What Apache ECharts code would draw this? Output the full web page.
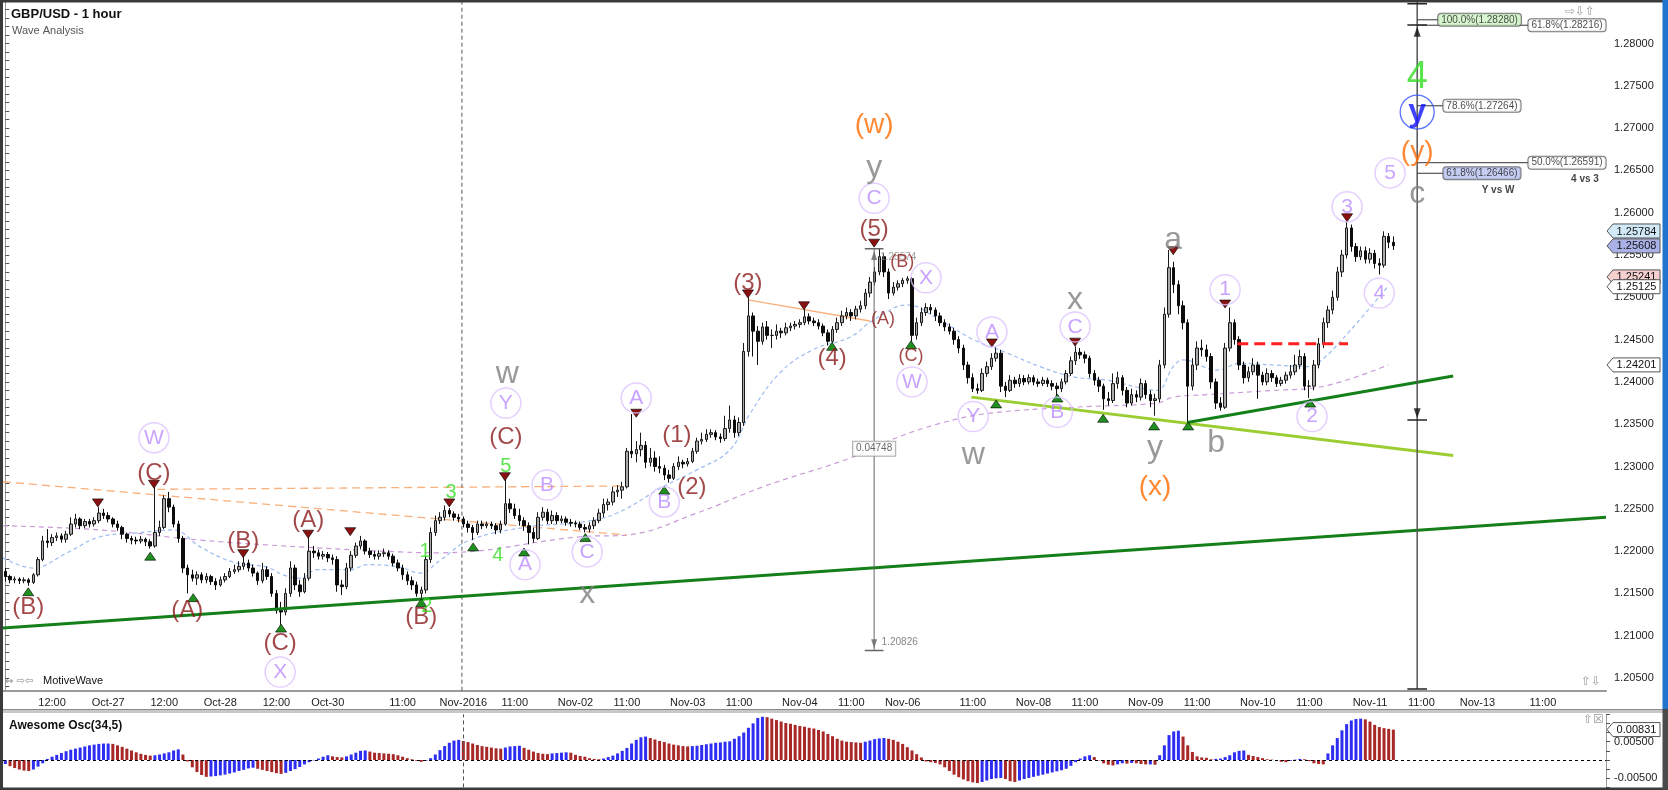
<!DOCTYPE html>
<html><head><meta charset="utf-8">
<script src="https://cdn.jsdelivr.net/npm/echarts@6/dist/echarts.min.js"></script>
<style>html,body{margin:0;padding:0;background:#fff}#c{width:1668px;height:790px}</style>
</head><body><div id="c"></div><script>
// ---------- DATA ----------
const firstOpen = 1.2176;
const closes = [
1.2170,1.2166,1.2167,1.2165,1.2166,1.2163,1.2172,1.2190,1.2212,1.2210,
1.2216,1.2218,1.2214,1.2220,1.2232,1.2238,1.2230,1.2235,1.2232,1.2236,
1.2245,1.2242,1.2238,1.2232,1.2228,1.2220,1.2215,1.2213,1.2212,1.2214,
1.2211,1.2206,1.2222,1.2228,1.2262,1.2252,1.2232,1.2215,1.2180,1.2172,
1.2168,1.2172,1.2166,1.2170,1.2164,1.2160,1.2166,1.2170,1.2176,1.2178,
1.2182,1.2186,1.2180,1.2174,1.2165,1.2178,1.2170,1.2150,1.2130,1.2128,
1.2150,1.2180,1.2160,1.2152,1.2168,1.2200,1.2198,1.2194,1.2196,1.2192,
1.2190,1.2160,1.2158,1.2180,1.2195,1.2206,1.2212,1.2200,1.2196,1.2194,
1.2197,1.2198,1.2194,1.2186,1.2180,1.2172,1.2165,1.2160,1.2150,1.2154,
1.2190,1.2222,1.2236,1.2240,1.2248,1.2244,1.2240,1.2238,1.2232,1.2228,
1.2222,1.2232,1.2230,1.2232,1.2230,1.2225,1.2232,1.2256,1.2250,1.2242,
1.2236,1.2230,1.2222,1.2215,1.2240,1.2246,1.2236,1.2242,1.2236,1.2238,
1.2234,1.2233,1.2232,1.2228,1.2226,1.2230,1.2236,1.2245,1.2255,1.2258,
1.2270,1.2272,1.2276,1.2318,1.2315,1.2320,1.2325,1.2305,1.2310,1.2300,
1.2298,1.2290,1.2286,1.2300,1.2305,1.2303,1.2306,1.2318,1.2330,1.2332,
1.2338,1.2340,1.2335,1.2333,1.2345,1.2355,1.2340,1.2352,1.2436,1.2478,
1.2460,1.2448,1.2465,1.2455,1.2455,1.2460,1.2458,1.2464,1.2466,1.2468,
1.2470,1.2477,1.2472,1.2470,1.2466,1.2458,1.2448,1.2462,1.2470,1.2478,
1.2482,1.2478,1.2486,1.2490,1.2505,1.2518,1.2530,1.2548,1.2530,1.2505,
1.2512,1.2516,1.2520,1.2522,1.2455,1.2470,1.2482,1.2488,1.2485,1.2478,
1.2470,1.2465,1.2460,1.2450,1.2440,1.2420,1.2405,1.2392,1.2390,1.2410,
1.2418,1.2428,1.2434,1.2395,1.2390,1.2402,1.2398,1.2404,1.2400,1.2405,
1.2400,1.2398,1.2402,1.2398,1.2395,1.2392,1.2400,1.2410,1.2425,1.2435,
1.2432,1.2428,1.2410,1.2402,1.2395,1.2380,1.2378,1.2398,1.2405,1.2390,
1.2375,1.2385,1.2382,1.2398,1.2385,1.2378,1.2380,1.2420,1.2480,1.2535,
1.2515,1.2490,1.2470,1.2395,1.2420,1.2440,1.2438,1.2430,1.2400,1.2375,
1.2370,1.2440,1.2470,1.2450,1.2420,1.2405,1.2412,1.2420,1.2408,1.2400,
1.2410,1.2405,1.2398,1.2402,1.2408,1.2412,1.2420,1.2430,1.2395,1.2395,
1.2420,1.2445,1.2470,1.2485,1.2500,1.2530,1.2550,1.2582,1.2560,1.2548,
1.2555,1.2545,1.2552,1.2540,1.2538,1.2572,1.2565,1.2561];
const highs = [
1.2180,1.2172,1.2170,1.2169,1.2169,1.2168,1.2174,1.2193,1.2218,1.2226,
1.2220,1.2222,1.2221,1.2224,1.2240,1.2244,1.2240,1.2238,1.2238,1.2240,
1.2252,1.2250,1.2246,1.2240,1.2236,1.2230,1.2222,1.2218,1.2217,1.2218,
1.2216,1.2214,1.2278,1.2236,1.2266,1.2270,1.2255,1.2236,1.2218,1.2184,
1.2178,1.2176,1.2175,1.2174,1.2172,1.2168,1.2170,1.2174,1.2180,1.2184,
1.2188,1.2195,1.2190,1.2184,1.2176,1.2186,1.2182,1.2174,1.2154,1.2140,
1.2156,1.2188,1.2184,1.2166,1.2174,1.2220,1.2206,1.2202,1.2200,1.2199,
1.2196,1.2194,1.2166,1.2186,1.2200,1.2210,1.2218,1.2214,1.2204,1.2200,
1.2201,1.2203,1.2201,1.2197,1.2190,1.2184,1.2176,1.2170,1.2164,1.2158,
1.2194,1.2228,1.2242,1.2246,1.2254,1.2251,1.2247,1.2244,1.2241,1.2236,
1.2231,1.2236,1.2236,1.2235,1.2235,1.2233,1.2236,1.2285,1.2262,1.2256,
1.2250,1.2240,1.2234,1.2228,1.2246,1.2252,1.2250,1.2248,1.2246,1.2242,
1.2241,1.2238,1.2236,1.2235,1.2232,1.2234,1.2240,1.2250,1.2262,1.2262,
1.2276,1.2278,1.2282,1.2322,1.2362,1.2330,1.2340,1.2330,1.2322,1.2318,
1.2312,1.2302,1.2296,1.2304,1.2312,1.2308,1.2310,1.2322,1.2334,1.2340,
1.2344,1.2344,1.2343,1.2339,1.2360,1.2372,1.2360,1.2358,1.2446,1.2500,
1.2482,1.2466,1.2470,1.2472,1.2462,1.2468,1.2464,1.2470,1.2470,1.2472,
1.2474,1.2486,1.2481,1.2476,1.2474,1.2469,1.2462,1.2466,1.2476,1.2484,
1.2488,1.2486,1.2490,1.2496,1.2510,1.2524,1.2536,1.2557,1.2552,1.2534,
1.2518,1.2520,1.2523,1.2525,1.2524,1.2476,1.2488,1.2493,1.2492,1.2488,
1.2482,1.2474,1.2469,1.2464,1.2454,1.2444,1.2424,1.2410,1.2398,1.2416,
1.2424,1.2434,1.2441,1.2438,1.2400,1.2408,1.2406,1.2409,1.2408,1.2409,
1.2408,1.2404,1.2406,1.2405,1.2402,1.2399,1.2404,1.2414,1.2430,1.2442,
1.2440,1.2436,1.2431,1.2414,1.2406,1.2398,1.2388,1.2410,1.2412,1.2408,
1.2394,1.2392,1.2390,1.2404,1.2402,1.2390,1.2386,1.2426,1.2488,1.2556,
1.2542,1.2520,1.2496,1.2474,1.2428,1.2448,1.2450,1.2444,1.2434,1.2404,
1.2382,1.2446,1.2488,1.2474,1.2454,1.2424,1.2418,1.2428,1.2424,1.2412,
1.2416,1.2414,1.2408,1.2406,1.2412,1.2420,1.2432,1.2438,1.2434,1.2402,
1.2426,1.2452,1.2476,1.2490,1.2508,1.2536,1.2556,1.2590,1.2586,1.2564,
1.2560,1.2560,1.2558,1.2556,1.2546,1.2578,1.2576,1.2572];
const lows = [
1.2164,1.2162,1.2162,1.2161,1.2162,1.2159,1.2161,1.2170,1.2188,1.2204,
1.2206,1.2212,1.2210,1.2210,1.2218,1.2228,1.2226,1.2227,1.2228,1.2229,
1.2233,1.2238,1.2234,1.2228,1.2224,1.2214,1.2210,1.2208,1.2208,1.2209,
1.2206,1.2203,1.2204,1.2218,1.2226,1.2246,1.2228,1.2210,1.2174,1.2150,
1.2164,1.2160,1.2162,1.2162,1.2160,1.2154,1.2158,1.2163,1.2168,1.2173,
1.2175,1.2178,1.2176,1.2170,1.2160,1.2162,1.2166,1.2146,1.2126,1.2113,
1.2124,1.2146,1.2154,1.2146,1.2150,1.2165,1.2192,1.2190,1.2190,1.2187,
1.2184,1.2152,1.2148,1.2155,1.2176,1.2192,1.2202,1.2196,1.2192,1.2190,
1.2190,1.2193,1.2190,1.2182,1.2176,1.2166,1.2160,1.2154,1.2146,1.2144,
1.2150,1.2186,1.2218,1.2232,1.2236,1.2240,1.2236,1.2234,1.2228,1.2222,
1.2213,1.2219,1.2226,1.2227,1.2226,1.2220,1.2221,1.2230,1.2245,1.2238,
1.2230,1.2224,1.2208,1.2210,1.2213,1.2236,1.2232,1.2232,1.2232,1.2233,
1.2230,1.2229,1.2228,1.2225,1.2222,1.2222,1.2226,1.2233,1.2240,1.2248,
1.2254,1.2264,1.2262,1.2274,1.2310,1.2305,1.2312,1.2298,1.2300,1.2294,
1.2292,1.2284,1.2281,1.2284,1.2296,1.2298,1.2300,1.2304,1.2315,1.2326,
1.2329,1.2334,1.2331,1.2328,1.2330,1.2340,1.2334,1.2336,1.2348,1.2430,
1.2430,1.2420,1.2444,1.2450,1.2440,1.2450,1.2452,1.2455,1.2460,1.2462,
1.2464,1.2467,1.2468,1.2466,1.2462,1.2454,1.2443,1.2446,1.2458,1.2466,
1.2474,1.2472,1.2474,1.2482,1.2486,1.2500,1.2514,1.2526,1.2524,1.2498,
1.2502,1.2508,1.2512,1.2516,1.2448,1.2450,1.2466,1.2478,1.2480,1.2472,
1.2466,1.2460,1.2456,1.2444,1.2434,1.2414,1.2398,1.2388,1.2386,1.2388,
1.2406,1.2414,1.2424,1.2388,1.2382,1.2388,1.2393,1.2394,1.2396,1.2397,
1.2396,1.2394,1.2395,1.2394,1.2390,1.2383,1.2388,1.2397,1.2407,1.2420,
1.2427,1.2422,1.2405,1.2396,1.2388,1.2367,1.2372,1.2375,1.2392,1.2384,
1.2370,1.2372,1.2376,1.2378,1.2380,1.2370,1.2360,1.2376,1.2416,1.2476,
1.2505,1.2480,1.2462,1.2350,1.2390,1.2414,1.2430,1.2424,1.2392,1.2368,
1.2366,1.2368,1.2436,1.2444,1.2414,1.2398,1.2400,1.2408,1.2380,1.2396,
1.2396,1.2400,1.2394,1.2395,1.2398,1.2404,1.2408,1.2415,1.2390,1.2381,
1.2390,1.2416,1.2440,1.2464,1.2480,1.2496,1.2524,1.2546,1.2554,1.2542,
1.2544,1.2540,1.2540,1.2534,1.2527,1.2535,1.2558,1.2556];
const aoValues = [
-0.0011,-0.0017,-0.0022,-0.0026,-0.0029,-0.0030,-0.0026,-0.0018,-0.0009,0.0003,
0.0009,0.0014,0.0019,0.0024,0.0028,0.0031,0.0034,0.0037,0.0040,0.0042,
0.0044,0.0045,0.0045,0.0044,0.0040,0.0036,0.0031,0.0026,0.0021,0.0017,
0.0014,0.0012,0.0013,0.0015,0.0018,0.0021,0.0026,0.0029,0.0015,-0.0004,
-0.0020,-0.0033,-0.0041,-0.0046,-0.0045,-0.0044,-0.0042,-0.0040,-0.0037,-0.0034,
-0.0030,-0.0027,-0.0023,-0.0021,-0.0024,-0.0027,-0.0030,-0.0033,-0.0036,-0.0038,
-0.0035,-0.0030,-0.0025,-0.0019,-0.0012,-0.0006,-0.0001,0.0004,0.0009,0.0013,
0.0010,0.0008,0.0007,0.0010,0.0015,0.0020,0.0025,0.0026,0.0023,0.0020,
0.0019,0.0018,0.0017,0.0016,0.0013,0.0009,0.0005,0.0002,-0.0002,-0.0005,
-0.0002,0.0005,0.0015,0.0027,0.0038,0.0047,0.0053,0.0055,0.0052,0.0049,
0.0045,0.0041,0.0038,0.0036,0.0034,0.0032,0.0031,0.0034,0.0037,0.0038,
0.0039,0.0033,0.0028,0.0023,0.0019,0.0017,0.0016,0.0018,0.0019,0.0020,
0.0021,0.0020,0.0014,0.0011,0.0009,0.0005,0.0003,0.0002,0.0004,0.0008,
0.0012,0.0018,0.0025,0.0033,0.0045,0.0055,0.0062,0.0064,0.0060,0.0056,
0.0052,0.0049,0.0045,0.0042,0.0040,0.0038,0.0037,0.0038,0.0039,0.0041,
0.0043,0.0045,0.0047,0.0048,0.0050,0.0051,0.0058,0.0065,0.0075,0.0088,
0.0100,0.0115,0.0118,0.0117,0.0113,0.0109,0.0105,0.0101,0.0099,0.0096,
0.0093,0.0091,0.0088,0.0086,0.0082,0.0078,0.0071,0.0065,0.0058,0.0053,
0.0050,0.0049,0.0048,0.0047,0.0050,0.0053,0.0057,0.0059,0.0060,0.0058,
0.0055,0.0050,0.0044,0.0035,0.0026,0.0016,0.0007,-0.0004,-0.0006,-0.0008,
-0.0012,-0.0020,-0.0030,-0.0040,-0.0047,-0.0053,-0.0058,-0.0061,-0.0063,-0.0060,
-0.0056,-0.0052,-0.0050,-0.0049,-0.0052,-0.0058,-0.0060,-0.0056,-0.0052,-0.0049,
-0.0046,-0.0043,-0.0040,-0.0037,-0.0034,-0.0031,-0.0028,-0.0024,-0.0016,-0.0006,
0.0004,0.0010,0.0013,0.0008,-0.0001,-0.0009,-0.0013,-0.0015,-0.0012,-0.0009,
-0.0010,-0.0008,-0.0009,-0.0011,-0.0012,-0.0012,-0.0013,0.0013,0.0040,0.0068,
0.0078,0.0080,0.0064,0.0040,0.0022,0.0010,0.0007,0.0006,0.0002,0.0003,
0.0004,0.0008,0.0013,0.0021,0.0025,0.0026,0.0014,0.0011,0.0008,0.0005,
0.0002,0.0001,-0.0002,-0.0005,-0.0006,-0.0002,0.0001,0.0003,0.0002,-0.0003,
-0.0009,-0.0011,-0.0012,0.0018,0.0040,0.0060,0.0081,0.0098,0.0108,0.0112,
0.0113,0.0111,0.0105,0.0096,0.0090,0.0087,0.0085,0.0083];

const slotCount = 343;
const xLabelIdx = [10,22,34,46,58,69,85,98,109,122,133,146,157,170,181,192,207,220,231,244,255,268,279,292,303,315,329];
const xLabelText = ['12:00','Oct-27','12:00','Oct-28','12:00','Oct-30','11:00','Nov-2016','11:00','Nov-02','11:00','Nov-03','11:00','Nov-04','11:00','Nov-06','11:00','Nov-08','11:00','Nov-09','11:00','Nov-10','11:00','Nov-11','11:00','Nov-13','11:00'];
const priceTickLabels = [1.205,1.21,1.215,1.22,1.225,1.23,1.235,1.24,1.245,1.25,1.255,1.26,1.265,1.27,1.275,1.28];
const aoTickLabels = [-0.005, 0.005];

// moving averages [bar, price]
const maFast = [[-0.5,1.2192],[5.9,1.2180],[13.2,1.2198],[20.3,1.2217],[27.3,1.2221],[35.9,1.2225],[41.7,1.2205],[48.7,1.2187],[56.0,1.2181],[59.4,1.2172],[63.1,1.2168],[66.7,1.2178],[73.8,1.2178],[77.4,1.2184],[84.5,1.2181],[88.7,1.2174],[93.0,1.2189],[99.4,1.2213],[112.3,1.2229],[123.0,1.2234],[130.9,1.2245],[140.7,1.2276],[148.0,1.2296],[155.1,1.2320],[159.4,1.2363],[165.8,1.2411],[172.8,1.2438],[180.8,1.2453],[185.7,1.2473],[193.0,1.2491],[200.0,1.2473],[207.1,1.2450],[214.4,1.2434],[221.4,1.2418],[228.5,1.2406],[235.8,1.2402],[242.8,1.2393],[246.5,1.2390],[249.9,1.2418],[252.0,1.2426],[259.3,1.2414],[264.2,1.2422],[271.3,1.2420],[278.6,1.2418],[281.3,1.2424],[287.8,1.2461],[295.7,1.2512]];
const maSlow = [[-0.5,1.2230],[20.3,1.2225],[41.7,1.2213],[63.1,1.2205],[84.5,1.2199],[93.0,1.2198],[123.0,1.2217],[133.0,1.2219],[148.0,1.2245],[162.1,1.2276],[180.8,1.2310],[189.3,1.2331],[200.0,1.2351],[210.7,1.2363],[228.5,1.2370],[246.5,1.2375],[249.9,1.2382],[257.2,1.2385],[271.3,1.2390],[281.3,1.2394],[295.9,1.2420]];

// trend lines [bar, price]
const trendMain = [[-0.5,1.2109],[342.5,1.2240]];
const trendLime = [[206.7,1.2382],[309.8,1.2313]];
const trendShort = [[252.9,1.2352],[309.8,1.2407]];
const redLevel = [[263.6,1.2445],[287.3,1.2445]];
const orange1 = [[-0.5,1.2282],[133.0,1.2219]];
const orange2 = [[32.5,1.2273],[133.0,1.2277]];
const orange3 = [[158.9,1.2497],[185.0,1.2472]];

// wave labels [bar, price, text]
const redLabels = [[4.9,1.2133,'(B)'],[31.8,1.2292,'(C)'],[38.9,1.2130,'(A)'],[50.9,1.2211,'(B)'],[64.8,1.2236,'(A)'],[58.8,1.2091,'(C)'],[89.0,1.2122,'(B)'],[107.1,1.2334,'(C)'],[143.7,1.2337,'(1)'],[146.9,1.2275,'(2)'],[158.9,1.2517,'(3)'],[176.9,1.2428,'(4)'],[185.9,1.2580,'(5)']];
const redLabelsSmall = [[191.9,1.2542,'(B)'],[187.8,1.2474,'(A)'],[193.8,1.2431,'(C)']];
const greenDigits = [[89.8,1.2199,'1'],[90.2,1.2134,'2'],[95.4,1.2269,'3'],[105.4,1.2195,'4'],[107.1,1.2300,'5']];
const greenBig = [[302.1,1.2760,'4']];
const purpleCircled = [[31.8,1.2334,'W'],[58.8,1.2057,'X'],[107.1,1.2375,'Y'],[115.9,1.2278,'B'],[111.2,1.2184,'A'],[124.5,1.2199,'C'],[135.0,1.2381,'A'],[141.0,1.2258,'B'],[185.9,1.2617,'C'],[197.0,1.2523,'X'],[194.0,1.2400,'W'],[211.1,1.2459,'A'],[207.1,1.2359,'Y'],[228.9,1.2465,'C'],[225.1,1.2364,'B'],[261.0,1.2509,'1'],[279.6,1.2359,'2'],[287.1,1.2607,'3'],[294.0,1.2505,'4'],[296.3,1.2647,'5']];
const grayLetters = [[107.4,1.2409,'w'],[124.5,1.2149,'x'],[185.9,1.2653,'y'],[207.1,1.2313,'w'],[228.9,1.2497,'x'],[249.9,1.2568,'a'],[246.0,1.2322,'y'],[259.1,1.2328,'b'],[302.1,1.2622,'c']];
const orangeLabels = [[185.9,1.2703,'(w)'],[246.0,1.2276,'(x)'],[302.1,1.2671,'(y)']];
const blueCircled = [[302.1,1.2719,'y']];
const triUp = [[4.9,1.2152],[31.0,1.2194],[40.2,1.2145],[59.0,1.2109],[89.0,1.2139],[100.1,1.2205],[111.0,1.2199],[124.1,1.2216],[141.0,1.2272],[176.9,1.2442],[193.8,1.2444],[212.0,1.2374],[225.1,1.2381],[234.9,1.2357],[245.8,1.2348],[253.1,1.2348],[279.2,1.2375]];
const triDown = [[19.8,1.2257],[31.8,1.2279],[50.9,1.2197],[64.8,1.2220],[73.8,1.2223],[95.0,1.2257],[106.9,1.2288],[135.0,1.2363],[158.9,1.2504],[170.9,1.2490],[185.9,1.2564],[211.1,1.2446],[228.9,1.2447],[249.9,1.2555],[261.0,1.2492],[287.1,1.2594]];

// measurements
const measureBar = 185.9, measureTop = 1.25574, measureBottom = 1.20826, measureDiff = '0.04748';
const fibBar = 302.1, fibTop = 1.285, fibBottom = 1.2037, fibHigh = 1.2822, fibLow = 1.2355;
const fibLevels = [1.28280, 1.28216, 1.27264, 1.26591, 1.26466];
const fibTexts = ['100.0%(1.28280)','61.8%(1.28216)','78.6%(1.27264)','50.0%(1.26591)','61.8%(1.26466)'];
const fibBoxAt = [306.6, 325.9, 307.7, 325.9, 307.7];
const fibFills = ['#cdf3c2','#ffffff','#ffffff','#ffffff','#b7c0ef'];
const tagValues = [1.25784, 1.25608, 1.25241, 1.25125, 1.24201];
const tagFills = ['#d2e9f7','#aab1e7','#f6cfcf','#ffffff','#ffffff'];
const aoLast = 0.00831;
const novBoundary = 97.7;

// ---------- CHART ----------
const FONT = 'Liberation Sans';
const cats = Array.from({length: slotCount}, (_, i) => { const k = xLabelIdx.indexOf(i); return k >= 0 ? xLabelText[k] : ''; });
const ohlc = closes.map((c, i) => [i === 0 ? firstOpen : closes[i-1], c, lows[i], highs[i]]);
const minorTicks = []; for (let k = 1204; k <= 1285; k++) minorTicks.push(k / 1000);
const isLabelIdx = (i) => xLabelIdx.indexOf(i) >= 0;

function labelSeries(items, lab, extra) {
  return Object.assign({
    type: 'scatter', xAxisIndex: 1, yAxisIndex: 0, silent: true, z: 10, symbolSize: 0,
    data: items.map(a => ({name: a[2], value: [a[0], a[1]]})),
    label: Object.assign({show: true, position: 'inside', formatter: '{b}', fontFamily: FONT}, lab)
  }, extra || {});
}
function seg(pts, style, z, extra) {
  return Object.assign({type: 'line', xAxisIndex: 1, yAxisIndex: 0, data: pts, symbol: 'none', silent: true, z: z || 4, lineStyle: style}, extra || {});
}
function triSeries(pts, color, rot) {
  return {type: 'scatter', xAxisIndex: 1, yAxisIndex: 0, silent: true, z: 9, symbol: 'triangle', symbolSize: [11, 8], symbolRotate: rot,
    data: pts, itemStyle: {color: color, borderColor: '#000', borderWidth: 0.6, opacity: 1}};
}

const series = [];
series.push(seg(maSlow, {color: '#c99ad8', width: 1.2, type: [5, 4]}, 1, {smooth: 0.4}));
series.push(seg(maFast, {color: '#9dbcf0', width: 1.2, type: [4, 3]}, 1, {smooth: 0.4}));
series.push(seg(orange1, {color: '#f8b07c', width: 1.3, type: [8, 5]}, 1));
series.push(seg(orange2, {color: '#f8b07c', width: 1.3, type: [8, 5]}, 1));
series.push(seg(orange3, {color: '#f8b07c', width: 1.3}, 1));
series.push(seg([[novBoundary, 1.2035], [novBoundary, 1.285]], {color: '#555', width: 1, type: [4, 3]}, 1));
series.push({type: 'candlestick', xAxisIndex: 0, yAxisIndex: 0, data: ohlc, barWidth: 3, silent: true, z: 3,
  itemStyle: {color: '#a9a9a9', color0: '#0c0c0c', borderColor: '#1a1a1a', borderColor0: '#0c0c0c', borderWidth: 1}});
series.push(seg(trendMain, {color: '#15801a', width: 3}, 5));
series.push(seg(trendLime, {color: '#9acd32', width: 3}, 5));
series.push(seg(trendShort, {color: '#15801a', width: 3}, 5));
series.push(seg(redLevel, {color: '#ff1f1f', width: 3, type: [11, 6]}, 5));
// measurement line
series.push(seg([[measureBar, measureTop], [measureBar, measureBottom]], {color: '#666', width: 1}, 6));
series.push(seg([[measureBar - 2, measureTop], [measureBar + 2, measureTop]], {color: '#666', width: 1.5}, 6));
series.push(seg([[measureBar - 2, measureBottom], [measureBar + 2, measureBottom]], {color: '#666', width: 1.5}, 6));
series.push({type: 'scatter', xAxisIndex: 1, yAxisIndex: 0, silent: true, z: 6, symbol: 'triangle', symbolSize: [6, 9],
  data: [[measureBar, measureTop - 0.0008]], itemStyle: {color: '#666'}});
series.push({type: 'scatter', xAxisIndex: 1, yAxisIndex: 0, silent: true, z: 6, symbol: 'triangle', symbolSize: [6, 9], symbolRotate: 180,
  data: [[measureBar, measureBottom + 0.0008]], itemStyle: {color: '#666'}});
series.push(labelSeries([[measureBar + 1.3, measureTop - 0.0010, measureTop.toFixed(5)]], {position: 'right', distance: 0, color: '#888', fontSize: 10}));
series.push(labelSeries([[measureBar + 1.6, measureBottom + 0.0010, measureBottom.toFixed(5)]], {position: 'right', distance: 0, color: '#666', fontSize: 10}));
series.push(labelSeries([[measureBar, 1.2321, measureDiff]], {color: '#444', fontSize: 10, backgroundColor: '#fff', borderColor: '#999', borderWidth: 1, padding: [2, 3]}, {z: 7}));
// fib vertical
series.push(seg([[fibBar, fibTop], [fibBar, fibBottom]], {color: '#555', width: 1.5}, 6));
[fibTop - 0.0003, fibHigh, fibLow, fibBottom].forEach(v => series.push(seg([[fibBar - 2.1, v], [fibBar + 2.1, v]], {color: '#222', width: 1.5}, 6)));
series.push({type: 'scatter', xAxisIndex: 1, yAxisIndex: 0, silent: true, z: 6, symbol: 'triangle', symbolSize: [7, 10],
  data: [[fibBar, fibHigh - 0.0008]], itemStyle: {color: '#111'}});
series.push({type: 'scatter', xAxisIndex: 1, yAxisIndex: 0, silent: true, z: 6, symbol: 'triangle', symbolSize: [7, 10], symbolRotate: 180,
  data: [[fibBar, fibLow + 0.0008]], itemStyle: {color: '#111'}});
fibLevels.forEach((v, k) => {
  series.push(seg([[fibBar, v], [fibBoxAt[k], v]], {color: '#333', width: 1}, 6));
  series.push(labelSeries([[fibBoxAt[k], v, fibTexts[k]]], {position: 'right', distance: 0, color: '#222', fontSize: 10,
    backgroundColor: fibFills[k], borderColor: '#555', borderWidth: 1, borderRadius: 3, padding: [1, 3]}, {z: 7}));
});
series.push(labelSeries([[319.4, 1.2627, 'Y vs W'], [338.0, 1.2639, '4 vs 3']], {color: '#111', fontSize: 10, fontWeight: 'bold'}));
// wave labels
series.push(triSeries(triUp, '#1f8f1f', 0));
series.push(triSeries(triDown, '#8b1111', 180));
series.push(labelSeries(purpleCircled, {color: '#bb8cff', fontSize: 21}, {symbol: 'circle', symbolSize: 30,
  itemStyle: {color: 'rgba(255,255,255,0)', borderColor: '#dcc4ff', borderWidth: 1.5}}));
series.push(labelSeries(blueCircled, {color: '#1414ff', fontSize: 32, fontWeight: 'bold', lineHeight: 32}, {symbol: 'circle', symbolSize: 34,
  itemStyle: {color: 'rgba(255,255,255,0)', borderColor: '#3050ff', borderWidth: 1.3}}));
series.push(labelSeries(redLabels, {color: '#8b1a1a', fontSize: 24}));
series.push(labelSeries(redLabelsSmall, {color: '#8b1a1a', fontSize: 18}));
series.push(labelSeries(greenDigits, {color: '#33dd22', fontSize: 20}));
series.push(labelSeries(greenBig, {color: '#33dd22', fontSize: 38}));
series.push(labelSeries(grayLetters, {color: '#808080', fontSize: 32}));
series.push(labelSeries(orangeLabels, {color: '#ff6a00', fontSize: 28}));
// oscillator
series.push({type: 'bar', xAxisIndex: 2, yAxisIndex: 1, barWidth: 3, silent: true,
  data: aoValues.map((v, i) => ({value: v, itemStyle: {color: (i === 0 || v >= aoValues[i-1]) ? '#2e2ef2' : '#a82828'}})),
  markLine: {symbol: 'none', silent: true, label: {show: false},
    data: [{yAxis: 0, lineStyle: {color: '#000', type: [3, 3], width: 1}}, {xAxis: 98, lineStyle: {color: '#555', type: [4, 3], width: 1}}]}});

const option = {
  animation: false,
  backgroundColor: '#ffffff',
  grid: [
    {left: 3, right: 62, top: 1.2, bottom: 99.3, outerBoundsMode: 'none'},
    {left: 3, right: 62, top: 714.25, bottom: 2.55, outerBoundsMode: 'none'}
  ],
  xAxis: [
    {type: 'category', gridIndex: 0, data: cats, boundaryGap: true,
      axisLine: {lineStyle: {color: '#9a9a9a', width: 2}},
      axisTick: {alignWithLabel: true, interval: isLabelIdx, length: 5, lineStyle: {color: '#444'}},
      axisLabel: {interval: isLabelIdx, fontSize: 11, color: '#222', margin: 7, fontFamily: FONT},
      splitLine: {show: false}},
    {type: 'value', gridIndex: 0, min: -0.5, max: slotCount - 0.5, show: false},
    {type: 'category', gridIndex: 1, data: cats, boundaryGap: true, show: false}
  ],
  yAxis: [
    {type: 'value', gridIndex: 0, position: 'right', min: 1.2035, max: 1.285,
      axisLine: {show: true, lineStyle: {color: '#9a9a9a'}},
      axisTick: {show: true, length: 4, customValues: minorTicks, lineStyle: {color: '#555'}},
      axisLabel: {customValues: priceTickLabels, formatter: v => v.toFixed(5), fontSize: 11, color: '#222', margin: 8, fontFamily: FONT},
      splitLine: {show: false}},
    {type: 'value', gridIndex: 1, position: 'right', min: -0.0075, max: 0.0125,
      axisLine: {show: true, lineStyle: {color: '#9a9a9a'}},
      axisTick: {show: true, length: 4, customValues: [-0.0075, -0.005, -0.0025, 0, 0.0025, 0.005, 0.0075, 0.01, 0.0125], lineStyle: {color: '#555'}},
      axisLabel: {customValues: aoTickLabels, formatter: v => v.toFixed(5), fontSize: 11, color: '#222', margin: 8, fontFamily: FONT},
      splitLine: {show: false}}
  ],
  series: series
};

const chart = echarts.init(document.getElementById('c'), null, {renderer: 'canvas', width: 1668, height: 790});
chart.setOption(option);

// frame, titles and value tags
const g = [];
const txt = (x, y, text, font, fill, align) => ({type: 'text', x: x, y: y, z: 100,
  style: {text: text, font: font, fill: fill, align: align || 'left', verticalAlign: 'middle'}});
g.push({type: 'rect', shape: {x: 0, y: 709, width: 1668, height: 4}, style: {fill: '#c8c8c8'}, z: 90});
g.push({type: 'rect', shape: {x: 0, y: 709, width: 1668, height: 1}, style: {fill: '#8a8a8a'}, z: 91});
g.push({type: 'rect', shape: {x: 0, y: 0, width: 1668, height: 2.5}, style: {fill: '#3a3a3a'}, z: 95});
g.push({type: 'rect', shape: {x: 0, y: 0, width: 3, height: 790}, style: {fill: '#3a3a3a'}, z: 95});
g.push({type: 'rect', shape: {x: 0, y: 787.5, width: 1668, height: 2.5}, style: {fill: '#3a3a3a'}, z: 95});
g.push({type: 'rect', shape: {x: 1662.5, y: 0, width: 5.5, height: 709}, style: {fill: '#1f74cc'}, z: 95});
g.push({type: 'rect', shape: {x: 1662.5, y: 709, width: 5.5, height: 81}, style: {fill: '#4a4a4a'}, z: 95});
g.push(txt(11, 14, 'GBP/USD - 1 hour', 'bold 13px "Liberation Sans"', '#111'));
g.push(txt(12, 31, 'Wave Analysis', '11px "Liberation Sans"', '#555'));
g.push(txt(9, 726, 'Awesome Osc(34,5)', 'bold 12px "Liberation Sans"', '#111'));
g.push(txt(5, 681, '⇔ ⇨⇦', '10px "DejaVu Sans"', '#888'));
g.push(txt(43, 681, 'MotiveWave', '11px "Liberation Sans"', '#111'));
g.push(txt(1565, 12, '⇨⇩⇧', '12px "DejaVu Sans"', '#9a9a9a'));
g.push(txt(1581, 682, '⇧⇩', '12px "DejaVu Sans"', '#9a9a9a'));
g.push(txt(1583, 720, '⇧☒', '12px "DejaVu Sans"', '#9a9a9a'));
function tag(y, text, fill) {
  g.push({type: 'polygon', z: 100, shape: {points: [[1607, y], [1613, y - 7], [1660, y - 7], [1660, y + 7], [1613, y + 7]]},
    style: {fill: fill, stroke: '#555', lineWidth: 1}});
  g.push(txt(1636.5, y + 0.5, text, '11px "Liberation Sans"', '#111', 'center'));
}
tagValues.forEach((v, k) => tag(chart.convertToPixel({yAxisIndex: 0}, v), v.toFixed(5), tagFills[k]));
tag(chart.convertToPixel({yAxisIndex: 1}, aoLast), aoLast.toFixed(5), '#ffffff');
chart.setOption({graphic: g});
</script></body></html>
